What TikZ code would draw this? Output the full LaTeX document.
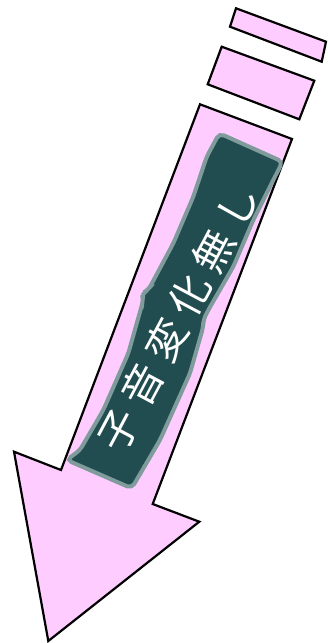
\documentclass[tikz,border=0pt]{standalone}
\usepackage{fontspec}
\newfontfamily\jpfont[LetterSpace=24]{Noto Sans CJK JP}
\definecolor{arrowpink}{HTML}{FFCCFF}
\definecolor{boarddark}{HTML}{224D50}
\definecolor{boardedge}{HTML}{7F9B9C}
\newcommand{\stripe}[4]{\filldraw[fill=arrowpink, draw=black, line width=2.2pt] #1 -- #2 -- #3 -- #4 -- cycle;}
\begin{document}
\begin{tikzpicture}[x=1pt, y=-1pt]
    \useasboundingbox (0,0) rectangle (327,643);
    % stripes behind the arrow
    \stripe{(236,8.3)}{(326,41.7)}{(321.7,61.7)}{(230,26.7)}
    \stripe{(221.7,46.7)}{(314.3,80.7)}{(299.3,119.3)}{(207.7,84.3)}
    % arrow
    \filldraw[fill=arrowpink, draw=black, line width=2.2pt] (200,104.3) -- (292,139) -- (152.7,504) -- (199.3,521.7) -- (48.3,641) -- (14,451.7) -- (61,470) -- cycle;
    % board
    \filldraw[fill=boarddark, draw=boardedge, line width=4pt, rounded corners=5pt]
        (219.3,133.3) -- (282.7,161.7) -- (273.3,180) -- (253.3,220) -- (233.3,266.7) -- (208.3,310)
        -- (203.3,320) -- (203.3,326.7) -- (190,373.3) -- (160,440) -- (131.7,488.3)
        -- (66.7,460) -- (80,450) -- (103.3,410) -- (128.3,353.3) -- (143.3,300) -- (141.7,293.3)
        -- (148.3,290) -- (173.3,243.3) -- (193.3,196.7) -- (206.7,156.7) -- cycle;
    \node[rotate=62, text=white, font=\jpfont\fontsize{41}{41}\selectfont] (label) at (178,318) {子音変化無し};
\end{tikzpicture}
\end{document}
